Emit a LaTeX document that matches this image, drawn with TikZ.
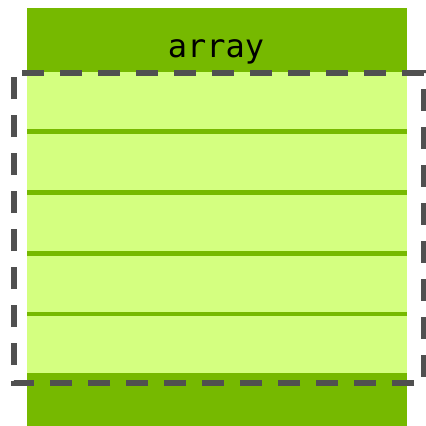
\documentclass[tikz,border=0pt]{standalone}
\usepackage{fontspec}
\newfontfamily\codefont{DejaVu Sans Mono}
\definecolor{dkgreen}{HTML}{76B900}
\definecolor{ltgreen}{HTML}{D4FF80}
\definecolor{dashgray}{HTML}{505050}
\begin{document}
\begin{tikzpicture}[x=1pt,y=-1pt,
  box/.style={draw=none,rectangle,inner sep=0pt,outer sep=0pt,anchor=north west,minimum width=380pt},
  sepline/.style={draw=dkgreen,line width=4.5pt},
  frame/.style={draw=dashgray,line width=5.3pt,dash pattern=on 22pt off 16pt,dash phase=30pt}]
\useasboundingbox (0,0) rectangle (426,426);
\node[box,fill=dkgreen,minimum height=64pt] (head) at (27,8) {};
\node[box,fill=ltgreen,minimum height=301pt] (body) at (27,72) {};
\node[box,fill=dkgreen,minimum height=54pt] (foot) at (27,372.5) {};
\node[anchor=base,inner sep=0pt,font=\codefont\fontsize{32}{32}\selectfont] (label) at (216,57.5) {array};
\foreach \yy in {131.5,192.4,253.3,314.2}
  \draw[sepline] (27,\yy) -- (407,\yy);
\draw[frame] (14,73) -- (424,73) -- (424,383) -- (14,383) -- cycle;
\end{tikzpicture}
\end{document}
